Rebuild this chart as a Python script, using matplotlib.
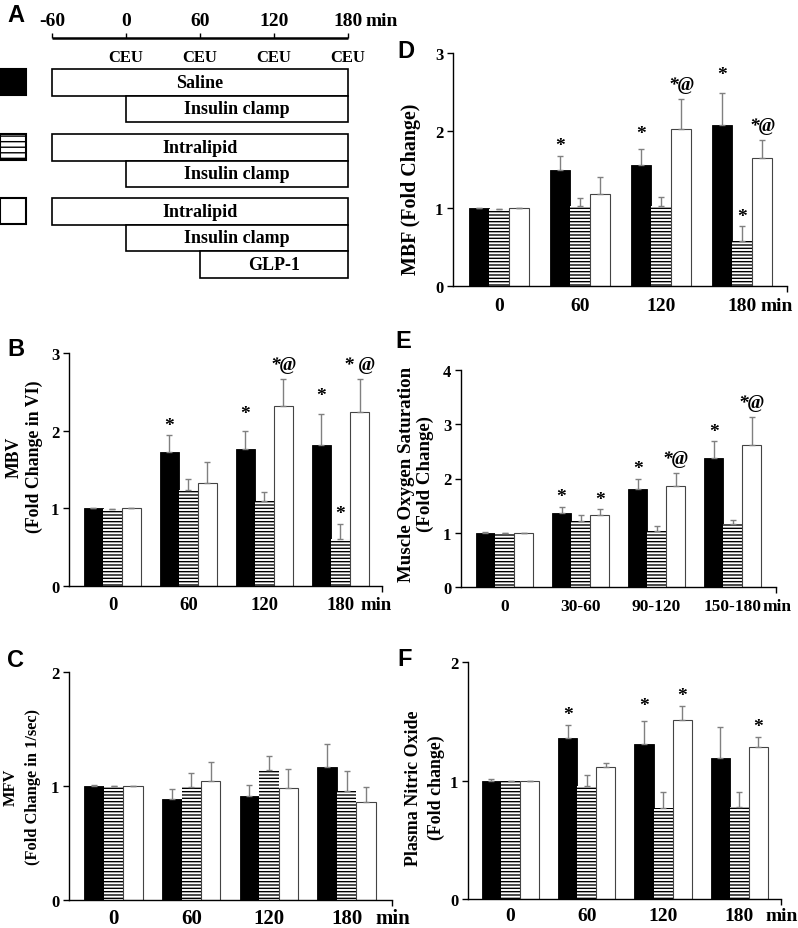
import matplotlib
matplotlib.use("Agg")
import matplotlib.pyplot as plt
from matplotlib.patches import Rectangle
import numpy as np

plt.rcParams['font.family'] = ['Liberation Serif', 'DejaVu Serif']
plt.rcParams['hatch.linewidth'] = 1.0

# ---------------- data ----------------
groups_min = ['0', '60', '120', '180']
groups_E = ['0', '30-60', '90-120', '150-180']

B_black = [1.00, 1.72, 1.77, 1.82]; B_black_err = [0.01, 0.22, 0.23, 0.40]
B_hatch = [0.99, 1.23, 1.10, 0.61]; B_hatch_err = [0.0, 0.15, 0.11, 0.19]
B_white = [1.00, 1.32, 2.32, 2.24]; B_white_err = [0.0, 0.28, 0.35, 0.43]

C_black = [1.00, 0.89, 0.91, 1.17]; C_black_err = [0.01, 0.08, 0.10, 0.20]
C_hatch = [1.00, 0.99, 1.14, 0.96]; C_hatch_err = [0.0, 0.12, 0.12, 0.17]
C_white = [1.00, 1.04, 0.98, 0.86]; C_white_err = [0.0, 0.17, 0.17, 0.13]

D_black = [1.00, 1.49, 1.56, 2.07]; D_black_err = [0.01, 0.19, 0.20, 0.41]
D_hatch = [0.99, 1.03, 1.03, 0.58]; D_hatch_err = [0.0, 0.10, 0.11, 0.19]
D_white = [1.00, 1.18, 2.02, 1.65]; D_white_err = [0.0, 0.22, 0.39, 0.23]

E_black = [1.00, 1.37, 1.81, 2.38]; E_black_err = [0.01, 0.11, 0.18, 0.31]
E_hatch = [0.99, 1.22, 1.04, 1.17]; E_hatch_err = [0.0, 0.11, 0.09, 0.07]
E_white = [1.00, 1.33, 1.86, 2.62]; E_white_err = [0.0, 0.10, 0.24, 0.51]

F_black = [1.00, 1.36, 1.31, 1.19]; F_black_err = [0.01, 0.11, 0.19, 0.26]
F_hatch = [1.00, 0.95, 0.77, 0.78]; F_hatch_err = [0.0, 0.10, 0.13, 0.12]
F_white = [1.00, 1.11, 1.51, 1.28]; F_white_err = [0.0, 0.04, 0.12, 0.09]

# significance marks: (group, series, text, extra lift in points)
B_marks = [(1, 0, '*', 0), (2, 0, '*', 5), (2, 2, '*@', 0), (3, 0, '*', 6), (3, 1, '*', 0), (3, 2, '* @', 0)]
D_marks = [(1, 0, '*', 0), (2, 0, '*', 4), (2, 2, '*@', 0), (3, 0, '*', 6), (3, 1, '*', 0), (3, 2, '*@', 0)]
E_marks = [(1, 0, '*', 0), (1, 2, '*', 0), (2, 0, '*', 0), (2, 2, '*@', 0), (3, 0, '*', 0), (3, 2, '*@', 0)]
F_marks = [(1, 0, '*', 0), (2, 0, '*', 4), (2, 2, '*', 0), (3, 2, '*', 0)]

# protocol (panel A)
timeline_ticks = [-60, 0, 60, 120, 180]
ceu_times = [0, 60, 120, 180]
protocol = [
    [('Saline', -60, 180), ('Insulin clamp', 0, 180)],
    [('Intralipid', -60, 180), ('Insulin clamp', 0, 180)],
    [('Intralipid', -60, 180), ('Insulin clamp', 0, 180), ('GLP-1', 60, 180)],
]

# ---------------- figure ----------------
W, H = 798, 929
fig = plt.figure(figsize=(W / 100, H / 100), dpi=100)


def px_axes(l, t, r, b):
    return fig.add_axes([l / W, 1 - b / H, (r - l) / W, (b - t) / H])


def bar_panel(box, ylim, xlim, black, be, hatch, he, white, we, labels,
              marks, xfs, xpad, min_off, ytick_fs=12):
    ax = px_axes(*box)
    x = np.arange(len(labels))
    w = 0.25
    ax.bar(x - w, black, w, color='black', edgecolor='black', linewidth=0.6, zorder=2)
    ax.bar(x, hatch, w, color='white', edgecolor='black', hatch='-----', linewidth=0, zorder=2)
    ax.bar(x + w, white, w, color='white', edgecolor='#444444', linewidth=0.8, zorder=2)
    vals = [black, hatch, white]
    errs = [be, he, we]
    for k, off in enumerate([-w, 0, w]):
        v = np.array(vals[k]); e = np.array(errs[k])
        ax.errorbar(x + off, v, yerr=[np.zeros_like(e), e], fmt='none',
                    ecolor='#808080', elinewidth=1.0, capsize=2, capthick=1.0, zorder=3)
    for g, s, txt, lift in marks:
        off = [-w, 0, w][s]
        top = vals[s][g] + errs[s][g]
        base = 7 if '@' in txt else 4
        ax.annotate(txt, xy=(x[g] + off, top), xytext=(0, base + lift),
                    textcoords='offset points', ha='center', va='baseline',
                    fontsize=14, fontweight='bold', fontstyle='italic' if '@' in txt else 'normal')
    ax.set_xlim(*xlim)
    ax.set_ylim(*ylim)
    ax.set_yticks(np.arange(ylim[0], ylim[1] + 1, 1))
    ax.set_yticklabels([str(int(t)) for t in np.arange(ylim[0], ylim[1] + 1, 1)],
                       fontsize=ytick_fs, fontweight='bold')
    ax.set_xticks(x)
    ax.set_xticklabels(labels, fontsize=xfs, fontweight='bold')
    ax.set_xticks([xlim[1]], minor=True)
    ax.tick_params(axis='x', which='major', length=0, pad=xpad)
    ax.tick_params(axis='x', which='minor', length=4, width=1.0, direction='out')
    ax.tick_params(axis='y', length=4, width=1.0, direction='out', pad=3)
    for sp in ['top', 'right']:
        ax.spines[sp].set_visible(False)
    for sp in ['left', 'bottom']:
        ax.spines[sp].set_linewidth(1.0)
    ax.annotate('min', xy=(x[-1] + min_off, 0), xycoords=ax.get_xaxis_transform(),
                xytext=(0, -xpad), textcoords='offset points', ha='center', va='top',
                fontsize=xfs, fontweight='bold')
    return ax


bar_panel((69, 354, 382, 587), (0, 3), (-0.572, 3.546), B_black, B_black_err, B_hatch, B_hatch_err,
          B_white, B_white_err, groups_min, B_marks, 13.5, 7, 0.47)
bar_panel((69, 673, 392, 901), (0, 2), (-0.573, 3.584), C_black, C_black_err, C_hatch, C_hatch_err,
          C_white, C_white_err, groups_min, [], 15, 6, 0.59)
bar_panel((453, 54, 787, 287), (0, 3), (-0.568, 3.556), D_black, D_black_err, D_hatch, D_hatch_err,
          D_white, D_white_err, groups_min, D_marks, 14, 8, 0.43)
bar_panel((461, 371, 776, 588), (0, 4), (-0.572, 3.57), E_black, E_black_err, E_hatch, E_hatch_err,
          E_white, E_white_err, groups_E, E_marks, 12.5, 8, 0.58)
bar_panel((468, 663, 781, 900), (0, 2), (-0.557, 3.545), F_black, F_black_err, F_hatch, F_hatch_err,
          F_white, F_white_err, groups_min, F_marks, 14, 6, 0.56)


def ylab(xc, yc, s, fs, ls):
    fig.text(xc / W, 1 - yc / H, s, rotation=90, ha='center', va='center',
             multialignment='center', fontsize=fs, fontweight='bold', linespacing=ls)

ylab(24, 457, 'MBV\n(Fold Change in VI)', 12.8, 1.22)
ylab(22, 787, 'MFV\n(Fold Change in 1/sec)', 11.8, 1.5)
ylab(411, 189, 'MBF (Fold Change)', 14.4, 1.2)
ylab(416, 474, 'Muscle Oxygen Saturation\n(Fold Change)', 13.6, 1.18)
ylab(425, 788, 'Plasma Nitric Oxide\n(Fold change)', 12.9, 1.4)

# panel letters
for lt, (xc, yc) in zip('ABCDEF', [(16, 15), (16, 350), (16, 661), (406, 52), (403, 341), (405, 659)]):
    fig.text(xc / W, 1 - yc / H, lt, ha='center', va='center', fontsize=17,
             fontweight='bold', family='Liberation Sans')

# ---------------- panel A ----------------
pxmin = 1.23333  # pixels per minute
axA = px_axes(0, 0, 400, 290)
axA.set_xlim(-60 - 52 / pxmin, -60 + 348 / pxmin)
axA.set_ylim(290, 0)
axA.axis('off')

axA.hlines(39, timeline_ticks[0], timeline_ticks[-1], color='black', lw=1.8)
axA.vlines(timeline_ticks, 34, 39, color='black', lw=1.0)
for t in timeline_ticks:
    axA.text(t, 22, str(t), ha='center', va='center', fontsize=14, fontweight='bold')
axA.annotate('min', xy=(timeline_ticks[-1], 22), xytext=(24, 0), textcoords='offset points',
             ha='center', va='center', fontsize=14, fontweight='bold')
for t in ceu_times:
    axA.text(t, 58, 'CEU', ha='center', va='center', fontsize=12, fontweight='bold')

row_tops = [70, 135, 199]
row_h = 26.5
leg_x0 = -60 - 52 / pxmin
leg_w = 26 / pxmin
leg_styles = [dict(facecolor='black'), dict(facecolor='white', hatch='---'), dict(facecolor='white')]
for top, rows, st in zip(row_tops, protocol, leg_styles):
    for j, (name, t0, t1) in enumerate(rows):
        y0 = top + j * row_h
        axA.add_patch(Rectangle((t0, y0), t1 - t0, row_h, facecolor='white',
                                edgecolor='black', lw=1.2))
        axA.text((t0 + t1) / 2, y0 + row_h / 2, name, ha='center', va='center',
                 fontsize=13, fontweight='bold')
    axA.add_patch(Rectangle((leg_x0, top), leg_w, 26, edgecolor='black', lw=1.5,
                            clip_on=False, **st))

fig.savefig('out.png', dpi=100)
